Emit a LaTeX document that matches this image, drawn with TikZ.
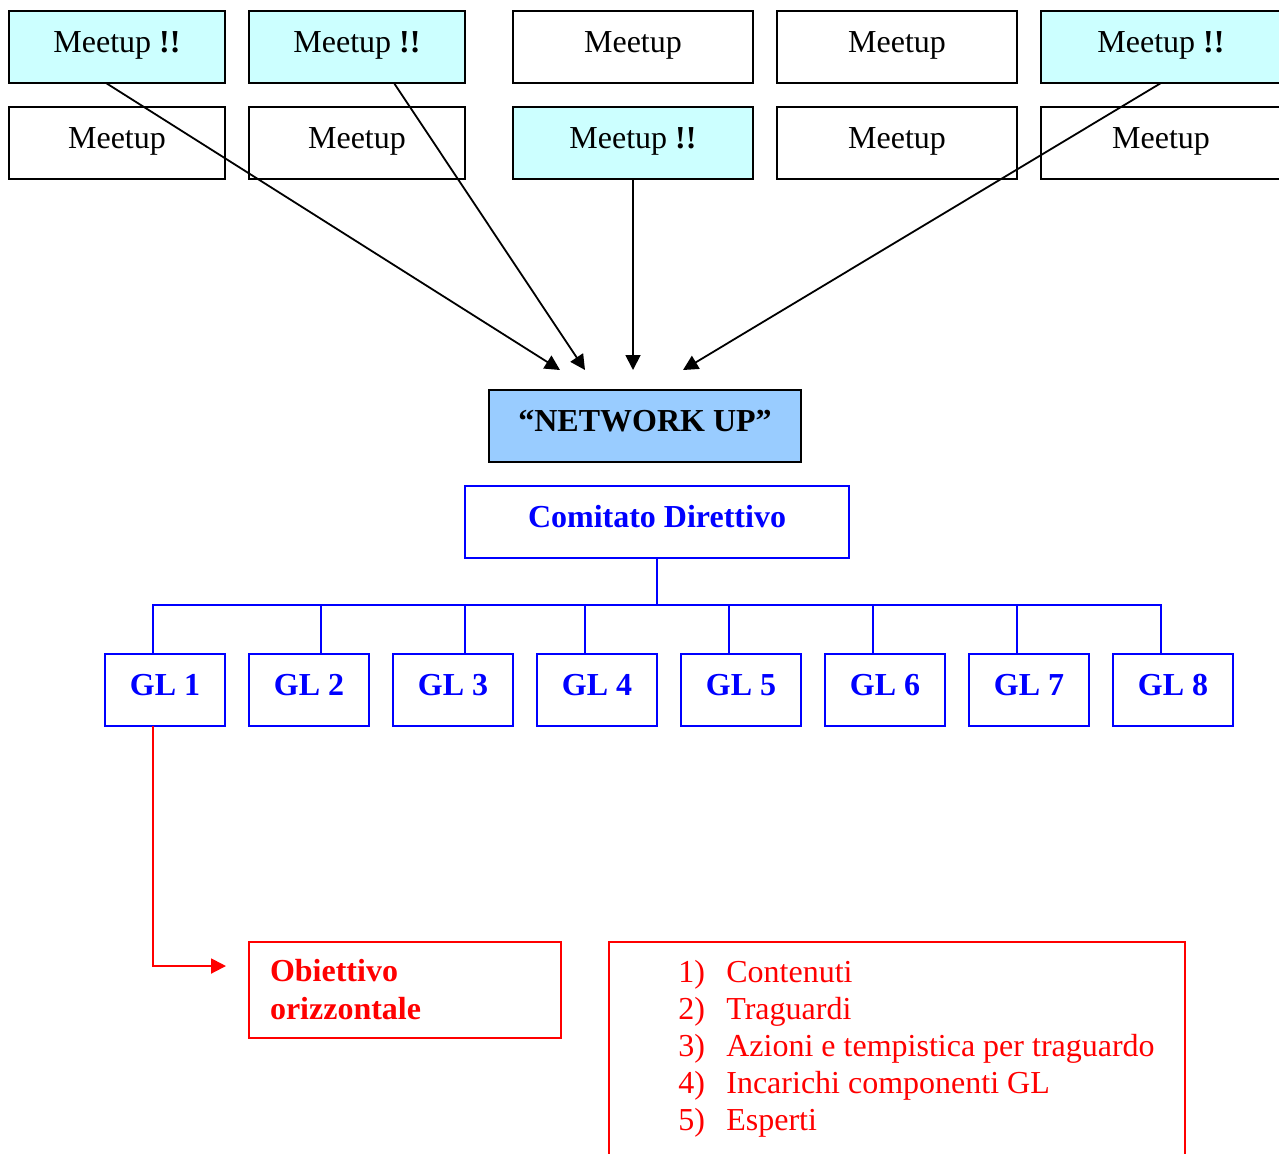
\documentclass[tikz,border=0pt]{standalone}
\usepackage{fontspec}
\setmainfont{Liberation Serif}
\usetikzlibrary{arrows.meta, positioning}
\definecolor{MeetFill}{HTML}{CCFFFF}
\definecolor{NetFill}{HTML}{99CCFF}
\colorlet{GLLine}{blue}
\colorlet{ObjLine}{red}
\newcommand{\boxfont}{\fontsize{16}{19}\selectfont}

\begin{document}
\begin{tikzpicture}[x=0.5pt, y=-0.5pt,
    meet/.style={
        rectangle, draw=black, line width=1pt, fill=#1,
        minimum width=108pt, minimum height=36pt,
        inner sep=0pt, outer sep=0pt, font=\boxfont,
        text height=11pt, text depth=5.4pt
    },
    meet/.default=white,
    net/.style={
        rectangle, draw=black, line width=1pt, fill=NetFill,
        minimum width=156pt, minimum height=36pt,
        inner sep=0pt, outer sep=0pt, font=\boxfont\bfseries,
        text height=11pt, text depth=5.4pt
    },
    glbox/.style={
        rectangle, draw=GLLine, line width=1pt, fill=white,
        minimum width=#1, minimum height=36pt,
        inner sep=0pt, outer sep=0pt, font=\boxfont\bfseries,
        text=GLLine, text height=11pt, text depth=5.4pt
    },
    glbox/.default=60pt,
    objbox/.style={
        rectangle, draw=ObjLine, line width=1pt,
        inner sep=0pt, outer sep=0pt
    },
    feed/.style={-{Triangle[length=7.5pt, width=7.5pt]}, line width=0.9pt, black},
    tree/.style={line width=1pt, GLLine},
    objarr/.style={-{Triangle[length=7.5pt, width=7.5pt]}, line width=1pt, ObjLine}
]
\useasboundingbox (0,0) rectangle (1279,1153);

% ===================================================================
% MEETUPS
% ===================================================================
\node[meet=MeetFill] (m11) at (117,47) {Meetup \textbf{!!}};
\node[meet=MeetFill, right=12pt of m11] (m12) {Meetup \textbf{!!}};
\node[meet, minimum width=120pt, right=24pt of m12] (m13) {Meetup};
\node[meet, minimum width=120pt, right=12pt of m13] (m14) {Meetup};
\node[meet=MeetFill, minimum width=120pt, right=12pt of m14] (m15)
    {Meetup \textbf{!!}};

\node[meet, below=12pt of m11] (m21) {Meetup};
\node[meet, below=12pt of m12] (m22) {Meetup};
\node[meet=MeetFill, minimum width=120pt, below=12pt of m13] (m23)
    {Meetup \textbf{!!}};
\node[meet, minimum width=120pt, below=12pt of m14] (m24) {Meetup};
\node[meet, minimum width=120pt, below=12pt of m15] (m25) {Meetup};

% arrow ends above the network box
\coordinate (in1) at (560,370);
\coordinate (in2) at (585,370);
\coordinate (in3) at (633,370);
\coordinate (in4) at (683,370);

\draw[feed] ([xshift=-5.5pt]m11.south) -- (in1);
\draw[feed] ([xshift=18.5pt]m12.south) -- (in2);
\draw[feed] (m23.south) -- (in3);
\draw[feed] (m15.south) -- (in4);

% ===================================================================
% NETWORK UP + COMITATO
% ===================================================================
\node[net] (net) at (645,426) {“NETWORK UP”};

\node[glbox=192pt] (cd) at (657,521.5) {Comitato Direttivo};

% ===================================================================
% GRUPPI DI LAVORO
% ===================================================================
\node[glbox] (gl1) at (165,689.5) {GL 1};
\node[glbox, right=12pt of gl1] (gl2) {GL 2};
\node[glbox, right=12pt of gl2] (gl3) {GL 3};
\node[glbox, right=12pt of gl3] (gl4) {GL 4};
\node[glbox, right=12pt of gl4] (gl5) {GL 5};
\node[glbox, right=12pt of gl5] (gl6) {GL 6};
\node[glbox, right=12pt of gl6] (gl7) {GL 7};
\node[glbox, right=12pt of gl7] (gl8) {GL 8};

\coordinate (bus) at (657,605);
\draw[tree] (cd.south) -- (bus);
\draw[tree] ([xshift=-6pt]gl1.north) |- (bus) -| ([xshift=-6pt]gl8.north);
\draw[tree] ([xshift=6pt]gl2.north) -- ++(0,-49);
\draw[tree] ([xshift=6pt]gl3.north) -- ++(0,-49);
\draw[tree] ([xshift=-6pt]gl4.north) -- ++(0,-49);
\draw[tree] ([xshift=-6pt]gl5.north) -- ++(0,-49);
\draw[tree] ([xshift=-6pt]gl6.north) -- ++(0,-49);
\draw[tree] ([xshift=-6pt]gl7.north) -- ++(0,-49);

% ===================================================================
% OBIETTIVO
% ===================================================================
\node[objbox, minimum width=156pt, minimum height=48pt, text width=135pt,
      inner xsep=10.5pt, align=left, text=ObjLine,
      font=\boxfont\bfseries] (ob) at (405,990)
    {Obiettivo\\orizzontale};

\coordinate (obin) at (226,966);
\draw[objarr] ([xshift=-6pt]gl1.south) |- (obin);

\node[objbox, minimum width=288pt, minimum height=120pt,
      anchor=north west] (tasks) at (609,942) {};
\node[anchor=north west, inner sep=0pt, align=left, text=ObjLine,
      font=\fontsize{16}{18.5}\selectfont] (tasklist) at (678,960)
    {\makebox[24pt][l]{1)}Contenuti\\
     \makebox[24pt][l]{2)}Traguardi\\
     \makebox[24pt][l]{3)}Azioni e tempistica per traguardo\\
     \makebox[24pt][l]{4)}Incarichi componenti GL\\
     \makebox[24pt][l]{5)}Esperti};

\end{tikzpicture}
\end{document}
